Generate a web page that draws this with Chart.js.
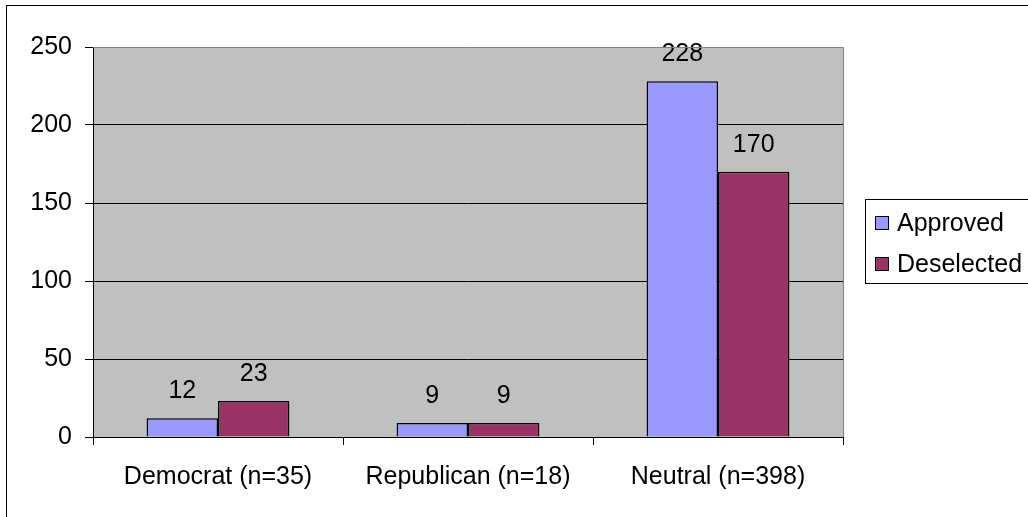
<!DOCTYPE html>
<html>
<head>
<meta charset="utf-8">
<script src="https://cdn.jsdelivr.net/npm/chart.js@4/dist/chart.umd.min.js"></script>
<style>
  html, body { margin: 0; padding: 0; background: #ffffff; }
  #wrap { width: 1028px; height: 517px; position: relative; }
</style>
</head>
<body>
<div id="wrap"><canvas id="chart" width="1028" height="517"></canvas></div>
<script>
// Categories and series
const categories = ['Democrat (n=35)', 'Republican (n=18)', 'Neutral (n=398)'];
const approved = [12, 9, 228];
const deselected = [23, 9, 170];
const seriesNames = ['Approved', 'Deselected'];
const seriesColors = ['#9999FF', '#993366'];
const yTicks = [0, 50, 100, 150, 200, 250];

const FONT = '"Liberation Sans", Arial, sans-serif';
const FONT_SIZE = 25;

// Grey plot area, frame and outer border
const framePlugin = {
  id: 'frame',
  beforeDraw(chart) {
    const { ctx, chartArea: a } = chart;
    ctx.save();
    ctx.fillStyle = '#ffffff';
    ctx.fillRect(0, 0, chart.width, chart.height);
    ctx.fillStyle = '#C0C0C0';
    ctx.fillRect(a.left, a.top, a.right - a.left, a.bottom - a.top);
    // outer chart border
    ctx.strokeStyle = '#000000';
    ctx.lineWidth = 1;
    ctx.strokeRect(6.5, 5.5, chart.width + 20, chart.height + 20);
    ctx.restore();
  },
  afterDraw(chart) {
    const { ctx, chartArea: a } = chart;
    ctx.save();
    ctx.strokeStyle = '#808080';
    ctx.lineWidth = 1;
    ctx.beginPath();
    ctx.moveTo(a.left, Math.round(a.top) + 0.5);
    ctx.lineTo(Math.round(a.right) + 0.5, Math.round(a.top) + 0.5);
    ctx.lineTo(Math.round(a.right) + 0.5, a.bottom);
    ctx.stroke();
    ctx.restore();
  }
};

// Value labels above each bar
const valueLabels = {
  id: 'valueLabels',
  afterDatasetsDraw(chart) {
    const { ctx } = chart;
    ctx.save();
    ctx.font = FONT_SIZE + 'px ' + FONT;
    ctx.fillStyle = '#000000';
    ctx.textAlign = 'center';
    ctx.textBaseline = 'alphabetic';
    chart.data.datasets.forEach((ds, i) => {
      const meta = chart.getDatasetMeta(i);
      meta.data.forEach((bar, j) => {
        ctx.fillText(String(ds.data[j]), bar.x, bar.y - 20);
      });
    });
    ctx.restore();
  }
};

// Boxed legend at the right
const boxLegend = {
  id: 'boxLegend',
  afterDraw(chart) {
    const { ctx } = chart;
    const x0 = 865.5, y0 = 199.5, rowGap = 41;
    ctx.save();
    ctx.strokeStyle = '#000000';
    ctx.lineWidth = 1;
    ctx.strokeRect(x0, y0, 200, 84);
    ctx.font = FONT_SIZE + 'px ' + FONT;
    ctx.textBaseline = 'middle';
    ctx.textAlign = 'left';
    chart.data.datasets.forEach((ds, i) => {
      const cy = 223 + i * rowGap;
      ctx.fillStyle = ds.backgroundColor;
      ctx.fillRect(875.5, cy - 6.5, 13, 13);
      ctx.strokeRect(875.5, cy - 6.5, 13, 13);
      ctx.fillStyle = '#000000';
      ctx.fillText(ds.label, 897, cy + 1);
    });
    ctx.restore();
  }
};

new Chart(document.getElementById('chart'), {
  type: 'bar',
  data: {
    labels: categories,
    datasets: [
      { label: seriesNames[0], data: approved, backgroundColor: seriesColors[0], borderColor: '#000000', borderWidth: 1.5 },
      { label: seriesNames[1], data: deselected, backgroundColor: seriesColors[1], borderColor: '#000000', borderWidth: 1.5 }
    ]
  },
  options: {
    responsive: false,
    animation: false,
    devicePixelRatio: 1,
    layout: { padding: { left: 0, top: 47, right: 185, bottom: 0 } },
    datasets: { bar: { barPercentage: 1, categoryPercentage: 2 / 3.5 } },
    plugins: { legend: { display: false }, tooltip: { enabled: false } },
    scales: {
      x: {
        grid: { display: true, drawOnChartArea: false, drawTicks: true, tickLength: 8, tickColor: '#000000', offset: true },
        border: { display: true, color: '#000000', width: 1 },
        ticks: { color: '#000000', font: { family: FONT, size: FONT_SIZE }, padding: 17, maxRotation: 0, autoSkip: false },
        afterFit(axis) { axis.height = 80; }
      },
      y: {
        min: 0,
        max: 250,
        afterBuildTicks(axis) { axis.ticks = yTicks.map(v => ({ value: v })); },
        grid: {
          color: ctx => (ctx.tick && ctx.tick.value === 250) ? 'rgba(0,0,0,0)' : '#000000',
          lineWidth: 1,
          drawTicks: true,
          tickLength: 8,
          tickColor: '#000000'
        },
        border: { display: true, color: '#000000', width: 1 },
        ticks: { color: '#000000', font: { family: FONT, size: FONT_SIZE }, padding: 13 },
        afterFit(axis) { axis.width = 93; }
      }
    }
  },
  plugins: [framePlugin, valueLabels, boxLegend]
});
</script>
</body>
</html>
